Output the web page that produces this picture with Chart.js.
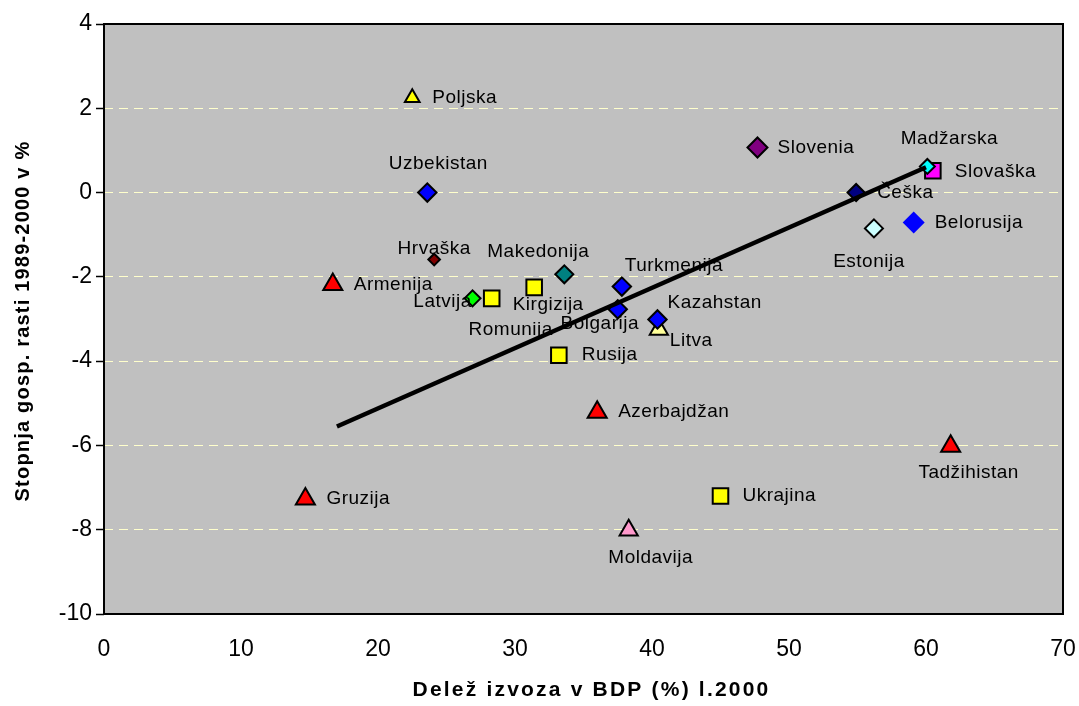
<!DOCTYPE html>
<html>
<head>
<meta charset="utf-8">
<script src="https://cdn.jsdelivr.net/npm/chart.js@4.4.1/dist/chart.umd.min.js"></script>
<style>
  html, body { margin: 0; padding: 0; background: #fff; }
</style>
</head>
<body>
<canvas id="myChart" width="1079" height="706"></canvas>
<script>
// data: export share of GDP (x) vs growth rate (y)
const countries = [
  "Poljska", "Uzbekistan", "Hrvaška", "Armenija", "Latvija", "Romunija",
  "Kirgizija", "Makedonija", "Turkmenija", "Bolgarija", "Litva", "Kazahstan",
  "Rusija", "Slovenia", "Slovaška", "Madžarska", "Češka", "Estonija",
  "Belorusija", "Azerbajdžan", "Gruzija", "Moldavija", "Ukrajina", "Tadžihistan"
];
const exportShare = [
  22.5, 23.6, 24.1, 16.7, 26.9, 28.3,
  31.4, 33.6, 37.8, 37.5, 40.5, 40.4,
  33.2, 47.7, 60.5, 60.1, 54.9, 56.2,
  59.1, 36.0, 14.7, 38.3, 45.0, 61.8
];
const growth = [
  2.25, 0.0, -1.59, -2.18, -2.51, -2.51,
  -2.25, -1.94, -2.23, -2.77, -3.25, -3.01,
  -3.86, 1.07, 0.52, 0.62, 0.0, -0.85,
  -0.71, -5.21, -7.27, -8.01, -7.2, -6.02
];
const trendX = [17.0, 60.0];
const trendY = [-5.55, 0.6];

const xTicks = [0, 10, 20, 30, 40, 50, 60, 70];
const yTicks = [-10, -8, -6, -4, -2, 0, 2, 4];
const xTitle = "Delež izvoza v BDP (%) l.2000";
const yTitle = "Stopnja gosp. rasti 1989-2000 v %";

// marker looks, one per country
const shape = { d: "rectRot", t: "triangle", s: "rect" };
const markerShape = [
  "t", "d", "d", "t", "d", "s",
  "s", "d", "d", "d", "t", "d",
  "s", "d", "s", "d", "d", "d",
  "d", "t", "t", "t", "s", "t"
];
const markerColor = [
  "#FFFF00", "#0000FF", "#800000", "#FF0000", "#00FF00", "#FFFF00",
  "#FFFF00", "#008080", "#0000FF", "#0000FF", "#FFFF99", "#0000FF",
  "#FFFF00", "#800080", "#FF00FF", "#00FFFF", "#000080", "#CCFFFF",
  "#0000FF", "#FF0000", "#FF0000", "#FF99CC", "#FFFF00", "#FF0000"
];
const markerSize = [
  8.5, 9.2, 5.8, 11, 8, 11,
  11, 9, 9.2, 9.2, 10.5, 9.2,
  11, 10, 11, 7.5, 8.6, 9,
  11, 11, 11, 10.5, 11, 11
];
// label offset from its marker: dx, dy, align
const labelSpot = [
  [20, 0, "left"], [11, -29, "center"], [0, -11, "center"], [21, 0, "left"],
  [-30, 3, "center"], [19, 31, "center"], [14, 17, "center"], [-26, -23, "center"],
  [52, -21, "center"], [-18, 14, "center"], [11, 11, "left"], [10, -17, "left"],
  [23, 0, "left"], [20, 0, "left"], [22, 1, "left"], [22, -28, "center"],
  [21, 0, "left"], [-5, 33, "center"], [21, 0, "left"], [21, 0, "left"],
  [21, 0, "left"], [22, 28, "center"], [22, 0, "left"], [18, 26, "center"]
];

const family = '"Liberation Sans", Arial, sans-serif';
Chart.defaults.font.family = family;
Chart.defaults.color = "#000";

const plotFrame = {
  id: "plotFrame",
  beforeDraw(chart) {
    const {ctx, chartArea: a} = chart;
    ctx.save();
    ctx.fillStyle = "#C0C0C0";
    ctx.fillRect(a.left, a.top, a.right - a.left, a.bottom - a.top);
    ctx.restore();
  },
  beforeDatasetsDraw(chart) {
    const {ctx, chartArea: a} = chart;
    ctx.save();
    ctx.strokeStyle = "#000";
    ctx.lineWidth = 2;
    ctx.strokeRect(a.left, a.top, a.right - a.left, a.bottom - a.top);
    ctx.restore();
  }
};

const pointLabels = {
  id: "pointLabels",
  afterDatasetDraw(chart, args) {
    if (args.index !== 0) return;
    const ctx = chart.ctx;
    const pts = args.meta.data;
    ctx.save();
    ctx.font = "19px " + family;
    ctx.fillStyle = "#000";
    ctx.textBaseline = "middle";
    ctx.letterSpacing = "0.5px";
    countries.forEach((name, i) => {
      const [dx, dy, align] = labelSpot[i];
      ctx.textAlign = align;
      ctx.fillText(name, pts[i].x + dx, pts[i].y + dy);
    });
    ctx.restore();
  }
};

const axisTitles = {
  id: "axisTitles",
  afterDraw(chart) {
    const {ctx, chartArea: a} = chart;
    ctx.save();
    ctx.fillStyle = "#000";
    ctx.textAlign = "center";
    ctx.textBaseline = "middle";
    ctx.font = "bold 21px " + family;
    ctx.letterSpacing = "2.2px";
    ctx.fillText(xTitle, (a.left + a.right) / 2 + 8, a.bottom + 76);
    ctx.translate(23, (a.top + a.bottom) / 2 + 2);
    ctx.rotate(-Math.PI / 2);
    ctx.font = "bold 20px " + family;
    ctx.letterSpacing = "1.2px";
    ctx.fillText(yTitle, 0, 0);
    ctx.restore();
  }
};

const ctx = document.getElementById("myChart").getContext("2d");

const data = {
  datasets: [
    {
      type: "scatter",
      order: 2,
      data: countries.map((c, i) => ({x: exportShare[i], y: growth[i]})),
      pointStyle: markerShape.map(m => shape[m]),
      pointRadius: markerSize,
      pointBackgroundColor: markerColor,
      pointBorderColor: "#000",
      pointBorderWidth: countries.map(c => c === "Belorusija" ? 0 : 2)
    },
    {
      type: "line",
      order: 1,
      data: trendX.map((x, i) => ({x: x, y: trendY[i]})),
      borderColor: "#000",
      borderWidth: 4.5,
      pointRadius: 0,
      fill: false
    }
  ]
};

const config = {
  type: "scatter",
  data: data,
  plugins: [plotFrame, pointLabels, axisTitles],
  options: {
    responsive: false,
    animation: false,
    layout: { padding: { top: 24, right: 16, left: 0, bottom: 0 } },
    plugins: {
      legend: { display: false },
      tooltip: { enabled: false }
    },
    scales: {
      x: {
        type: "linear",
        min: 0,
        max: 70,
        afterBuildTicks: s => { s.ticks = xTicks.map(v => ({value: v})); },
        afterFit: s => { s.height = 92; },
        // no visible ticks; the tick length only pushes the labels down
        grid: { display: false, drawTicks: true, tickLength: 19 },
        border: { display: false },
        ticks: { font: { size: 23 }, color: "#000", padding: 3, maxRotation: 0 }
      },
      y: {
        type: "linear",
        min: -10,
        max: 4,
        afterBuildTicks: s => { s.ticks = yTicks.map(v => ({value: v})); },
        afterFit: s => { s.width = 104; },
        grid: {
          color: c => (c.tick && (c.tick.value === 4 || c.tick.value === -10)) ? "rgba(0,0,0,0)" : "#FFFFCC",
          lineWidth: 1,
          tickLength: 8,
          tickColor: "#000",
          tickWidth: 1.5
        },
        border: { display: false, dash: [9, 6] },
        ticks: { font: { size: 23 }, color: "#000", padding: 4 }
      }
    }
  }
};

const myChart = new Chart(ctx, config);
</script>
</body>
</html>
